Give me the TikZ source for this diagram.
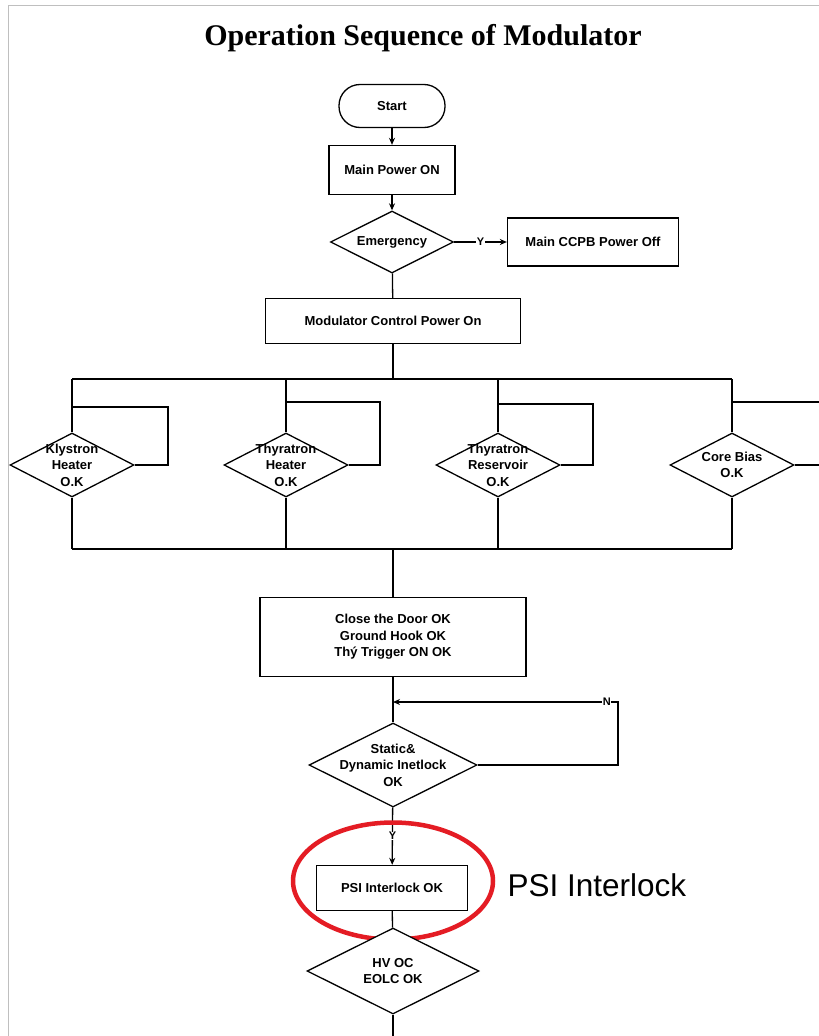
\documentclass[tikz,border=0pt]{standalone}
\usepackage{fontspec}
\setmainfont{Liberation Sans}
\newfontfamily\titlefont{Liberation Serif}
\usetikzlibrary{shapes.geometric, arrows.meta}
\definecolor{ringred}{RGB}{228,28,36}

\begin{document}
\begin{tikzpicture}[x=1pt, y=-1pt,
    every node/.style={font=\bfseries\fontsize{13}{16.5}\selectfont, align=center},
    box/.style={draw, line width=1.3pt, inner sep=0pt, fill=white},
    dia/.style={draw, diamond, line width=1.3pt, inner sep=0pt, fill=white},
    line/.style={line width=1.3pt},
    arr/.style={line width=1.3pt, -{Stealth[length=7pt, width=6pt]}},
    tag/.style={font=\bfseries\fontsize{11}{11}\selectfont, fill=white, inner sep=0.5pt}]
    \useasboundingbox (0,0) rectangle (819,1036);
    \draw[black!25, line width=1pt] (8,1036) -- (8,5) -- (819,5);
    \node[font=\titlefont\bfseries\fontsize{30}{31}\selectfont] (title) at (423,38) {Operation Sequence of Modulator};

    % top of the chart
    \node[box, rounded corners=21pt, minimum width=106pt, minimum height=43pt] (start) at (392,106) {Start};
    \node[box, minimum width=126pt, minimum height=49pt] (mainpow) at (392,170) {Main Power ON};
    \node[dia, minimum width=123pt, minimum height=62pt] (emerg) at (392,242) {};
    \node (emergtxt) at (emerg) {Emergency};
    \node[box, minimum width=171pt, minimum height=48pt] (ccpb) at (593,242) {Main CCPB Power Off};
    \node[box, minimum width=255pt, minimum height=45pt] (modctrl) at (393,321) {Modulator Control Power On};

    \draw[arr] (start) -- (mainpow);
    \draw[arr] (mainpow) -- (emerg);
    \draw[arr] (emerg) -- node[tag] (ylab1) {Y} (ccpb);
    \draw[line] (emerg) -- (modctrl);

    % the four checks
    \node[dia, minimum width=124pt, minimum height=64pt] (kly) at (72,465) {};
    \node[dia, minimum width=124pt, minimum height=64pt] (thyh) at (286,465) {};
    \node[dia, minimum width=124pt, minimum height=64pt] (thyr) at (498,465) {};
    \node[dia, minimum width=124pt, minimum height=64pt] (core) at (732,465) {};
    \node (klytxt) at (kly) {Klystron\\Heater\\O.K};
    \node (thyhtxt) at (thyh) {Thyratron\\Heater\\O.K};
    \node (thyrtxt) at (thyr) {Thyratron\\Reservoir\\O.K};
    \node (coretxt) at (core) {Core Bias\\O.K};

    \coordinate (bustop) at (393,379);
    \coordinate (busbot) at (393,549);
    \coordinate (klyloop) at (168,407);
    \coordinate (thyhloop) at (380,402);
    \coordinate (thyrloop) at (593,404);
    \coordinate (coreloop) at (840,402);

    \draw[line] (modctrl) -- (bustop);
    \draw[line] (kly.north |- bustop) -- (core.north |- bustop);
    \foreach \n in {kly, thyh, thyr, core} {
        \draw[line] (\n.north |- bustop) -- (\n.north);
        \draw[line] (\n.south) -- (\n.south |- busbot);
        \draw[line] (\n.east) -| (\n loop) -| (\n.north);
    }
    \draw[line] (kly.south |- busbot) -- (core.south |- busbot);

    % lower part
    \node[box, minimum width=266pt, minimum height=79pt] (door) at (393,637) {Close the Door OK\\Ground Hook OK\\Thý Trigger ON OK};
    \node[dia, minimum width=168pt, minimum height=84pt] (static) at (393,765) {};
    \node (statictxt) at (static) {Static\&\\Dynamic Inetlock\\OK};
    \node[box, minimum width=151pt, minimum height=45pt] (psi) at (392,888) {PSI Interlock OK};
    \coordinate (nloop) at (618,702);
    \coordinate (hvend) at (393,1040);

    \draw[line] (busbot) -- (door);
    \draw[line] (door) -- (static);
    \draw[arr] (static.east) -| (nloop) -- node[tag, pos=0.05] (nlab) {N} (door.south |- nloop);
    \draw[arr] (static) -- node[tag] (ylab2) {Y} (psi);

    \node[draw=ringred, line width=4.5pt, ellipse, minimum width=200pt, minimum height=117pt] (psiring) at (393,881) {};
    \node[font=\fontsize{31.5}{32}\selectfont, anchor=west] (psilab) at (504,885) {PSI Interlock};

    \node[dia, minimum width=172pt, minimum height=86pt] (hvoc) at (393,971) {};
    \node (hvoctxt) at (hvoc) {HV OC\\EOLC OK};
    \draw[line] (psi) -- (hvoc);
    \draw[line] (hvoc) -- (hvend);
\end{tikzpicture}
\end{document}
